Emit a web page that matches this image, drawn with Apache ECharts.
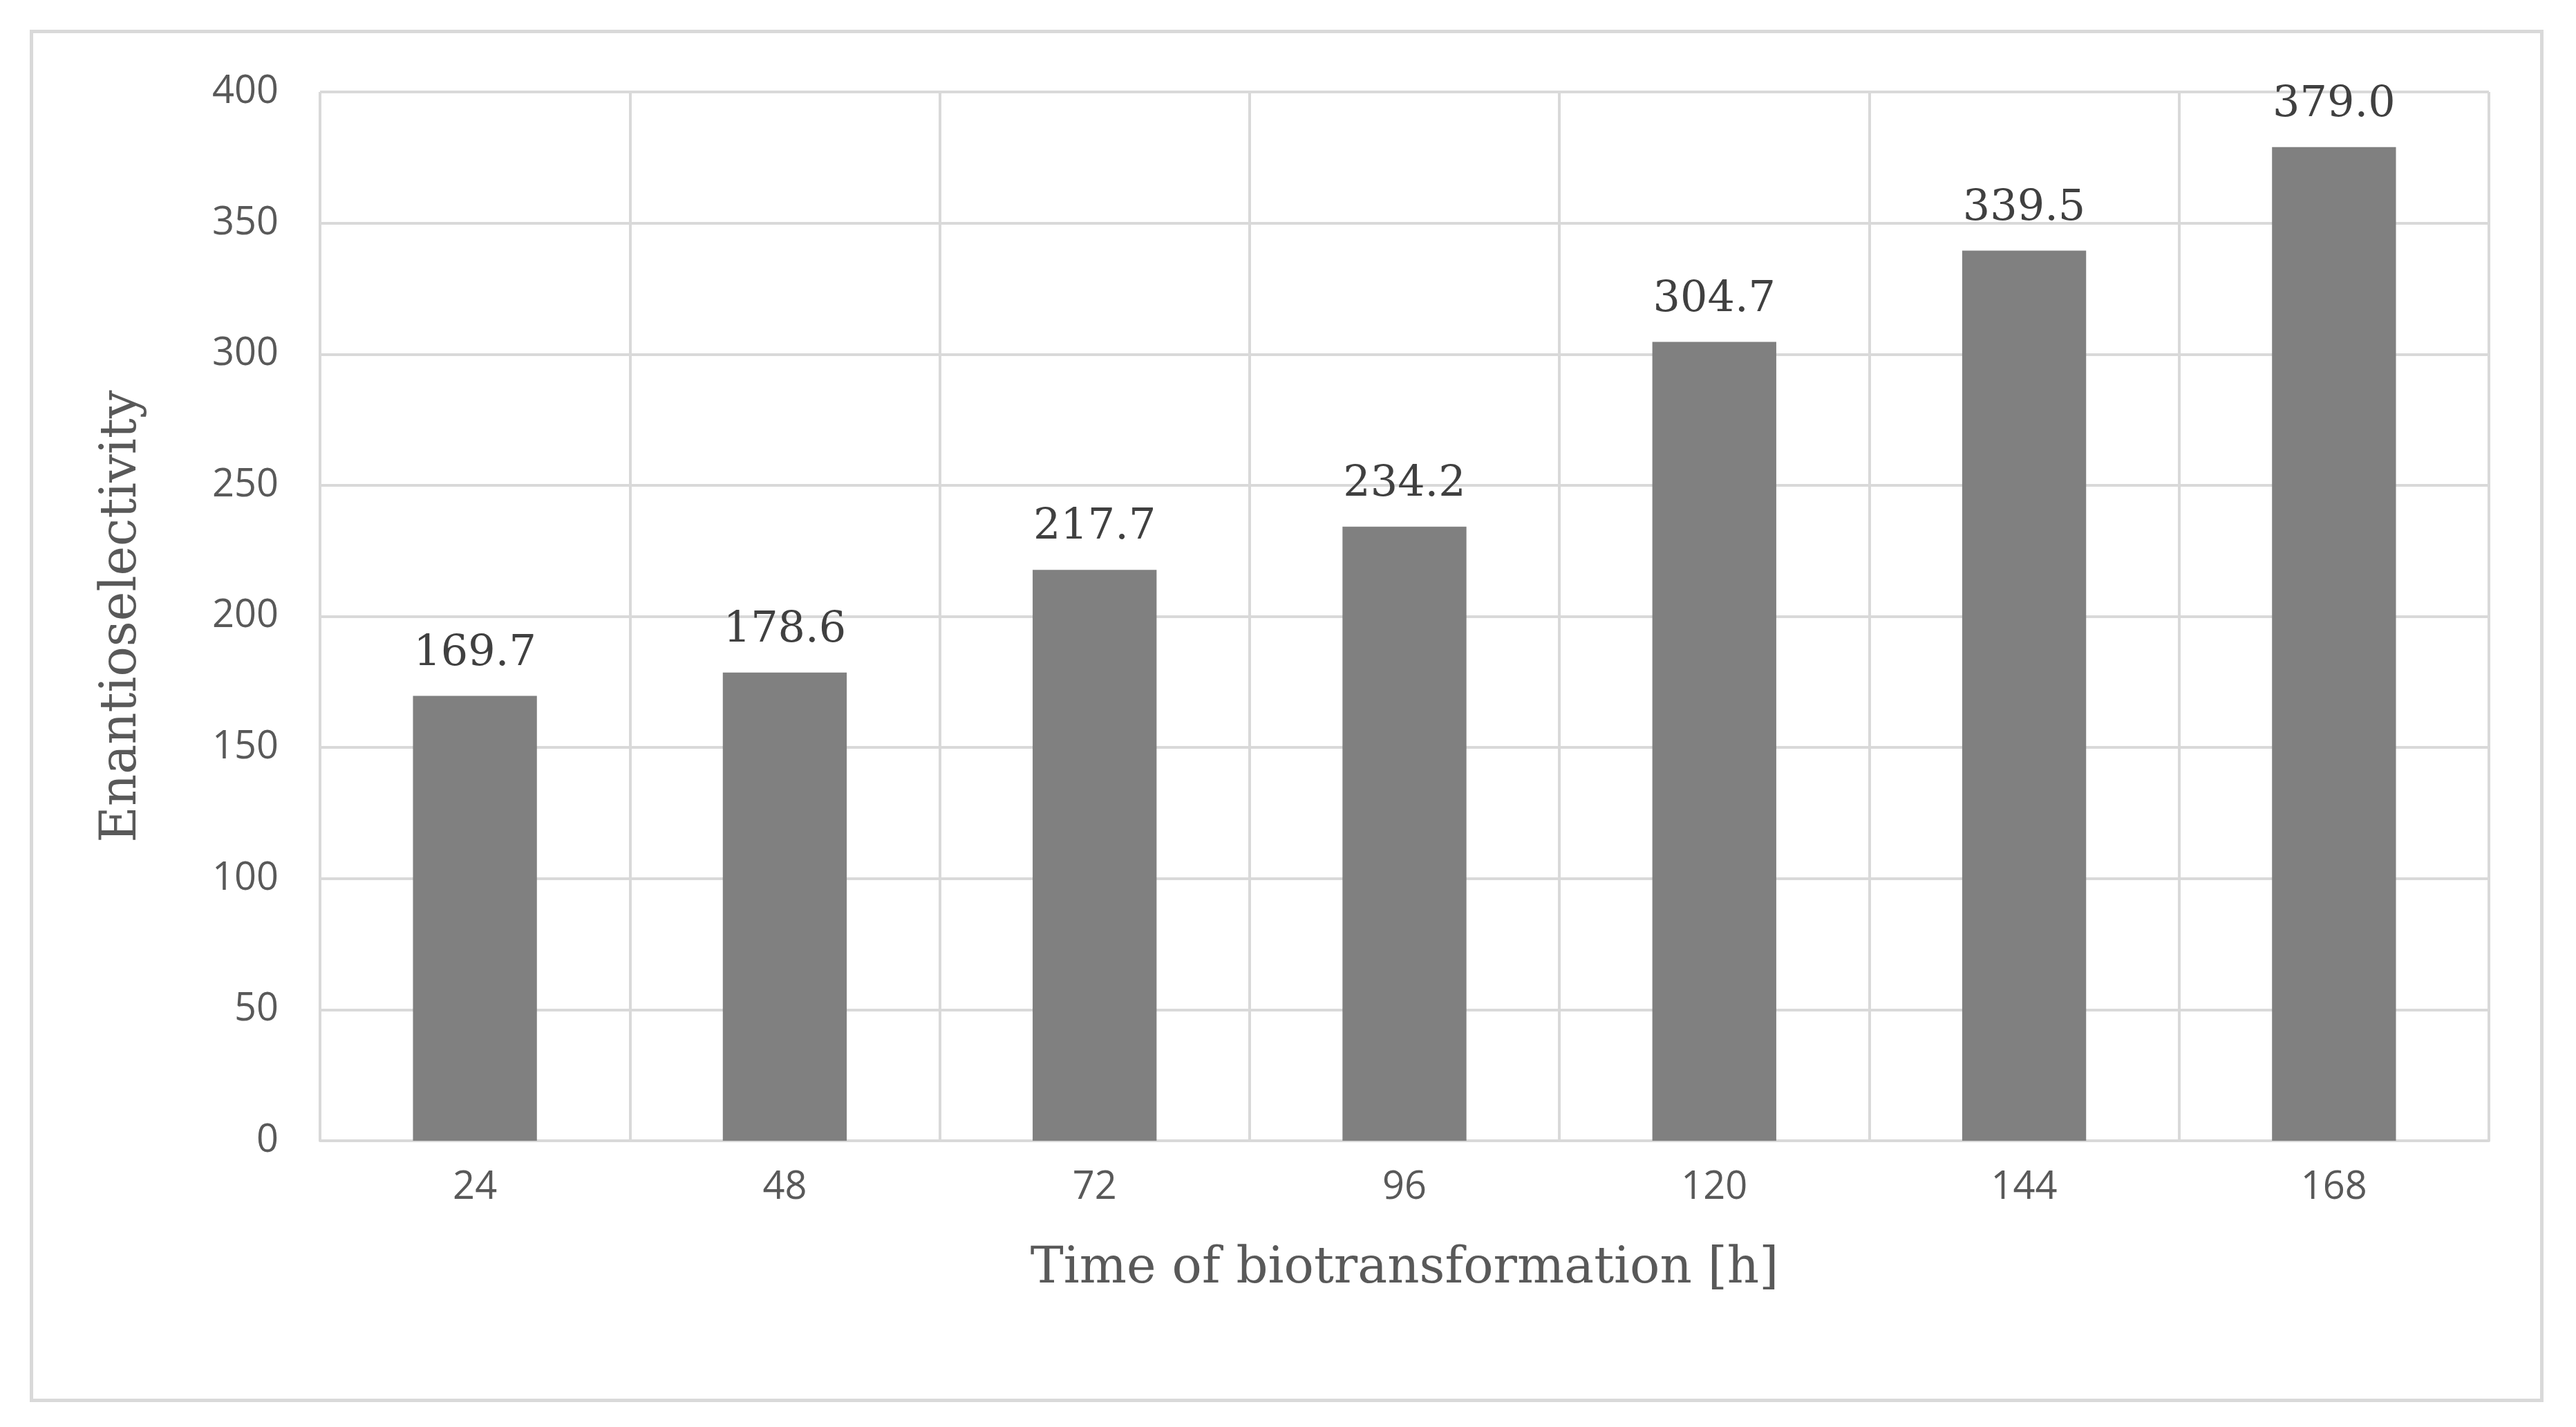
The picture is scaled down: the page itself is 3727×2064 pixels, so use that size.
<!DOCTYPE html>
<html>
<head>
<meta charset="utf-8">
<script src="https://cdn.jsdelivr.net/npm/echarts@6/dist/echarts.min.js"></script>
<style>
html,body{margin:0;padding:0;background:#fff;}
#frame{position:absolute;left:43px;top:43px;width:3637px;height:1985px;border:5px solid #d9d9d9;box-sizing:border-box;}
#chart{position:absolute;left:0;top:0;width:3727px;height:2064px;}
</style>
</head>
<body>
<div id="frame"></div>
<div id="chart"></div>
<script>
// time points [h] and enantioselectivity values
var hours = ['24', '48', '72', '96', '120', '144', '168'];
var enantio = [169.7, 178.6, 217.7, 234.2, 304.7, 339.5, 379.0];

var chart = echarts.init(document.getElementById('chart'));

var option = {
	animation: false,
	grid: {left: 463, right: 126, top: 133, bottom: 414},
	xAxis: {
		type: 'category',
		data: hours,
		name: 'Time of biotransformation [h]',
		nameLocation: 'middle',
		nameGap: 150,
		nameTextStyle: {fontFamily: 'DejaVu Serif', fontSize: 72, color: '#595959'},
		axisLine: {lineStyle: {color: '#d9d9d9', width: 4}},
		axisTick: {show: false},
		axisLabel: {fontFamily: 'Open Sans', fontSize: 56, color: '#595959', margin: 40},
		splitLine: {show: true, lineStyle: {color: '#d9d9d9', width: 4}}
	},
	yAxis: {
		type: 'value',
		min: 0,
		max: 400,
		interval: 50,
		name: 'Enantioselectivity',
		nameLocation: 'middle',
		nameGap: 250,
		nameTextStyle: {fontFamily: 'DejaVu Serif', fontSize: 72, color: '#595959'},
		axisLine: {show: false},
		axisTick: {show: false},
		axisLabel: {fontFamily: 'Open Sans', fontSize: 56, color: '#595959', margin: 60},
		splitLine: {lineStyle: {color: '#d9d9d9', width: 4}}
	},
	series: [{
		type: 'bar',
		data: enantio,
		barWidth: '40%',
		itemStyle: {color: '#808080'},
		label: {
			show: true,
			position: 'top',
			distance: 30,
			formatter: function (p) { return p.value.toFixed(1); },
			fontFamily: 'DejaVu Serif',
			fontSize: 62,
			color: '#404040'
		}
	}]
};

chart.setOption(option);
</script>
</body>
</html>
